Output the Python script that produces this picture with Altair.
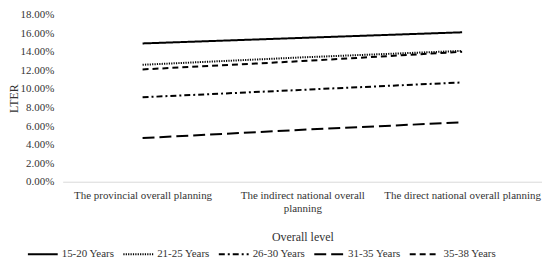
import altair as alt
import pandas as pd

categories = ["The provincial overall planning",
              "The indirect national overall planning",
              "The direct national overall planning"]
series = ["15-20 Years", "21-25 Years", "26-30 Years", "31-35 Years", "35-38 Years"]
v_15_20 = [0.149, 0.155, 0.161]
v_21_25 = [0.126, 0.134, 0.141]
v_26_30 = [0.091, 0.099, 0.107]
v_31_35 = [0.047, 0.056, 0.064]
v_35_38 = [0.121, 0.130, 0.140]
values = [v_15_20, v_21_25, v_26_30, v_31_35, v_35_38]
y_ticks = [0, 0.02, 0.04, 0.06, 0.08, 0.10, 0.12, 0.14, 0.16, 0.18]

rows = []
for s, vals in zip(series, values):
    for c, v in zip(categories, vals):
        rows.append({"level": c, "series": s, "LTER": v})
df = pd.DataFrame(rows)

font = "Liberation Serif"

chart = alt.Chart(df).mark_line(color="black", strokeWidth=2).encode(
    x=alt.X("level:N", sort=categories,
            scale=alt.Scale(type="point", padding=0.5),
            axis=alt.Axis(title="Overall level", labelAngle=0, ticks=False,
                          domainColor="#d9d9d9", labelColor="#333333",
                          labelFont=font, labelFontSize=11, labelPadding=8,
                          labelExpr="datum.label == 'The indirect national overall planning' ? ['The indirect national overall', 'planning'] : datum.label",
                          titleFont=font, titleFontSize=12, titleFontWeight="normal",
                          titleColor="#333333", titlePadding=18, labelLimit=300)),
    y=alt.Y("LTER:Q", scale=alt.Scale(domain=[0, 0.18]),
            axis=alt.Axis(title="LTER", format=".2%", values=y_ticks, grid=False,
                          domain=False, ticks=False, labelColor="#333333",
                          labelFont=font, labelFontSize=11, labelPadding=9,
                          titleFont=font, titleFontSize=12, titleFontWeight="normal",
                          titleColor="#333333", titlePadding=0)),
    strokeDash=alt.StrokeDash("series:N", sort=series,
                              scale=alt.Scale(domain=series,
                                              range=[[1, 0], [1.2, 1.2], [6, 3, 2, 3], [12, 5], [6, 4]]),
                              legend=alt.Legend(title=None, orient="none", direction="horizontal",
                                                legendX=-36, legendY=225, columns=5,
                                                symbolType="stroke", symbolSize=900,
                                                symbolStrokeColor="black", symbolStrokeWidth=2,
                                                labelFont=font, labelFontSize=11,
                                                labelColor="#333333", columnPadding=5,
                                                labelOffset=3)),
).properties(
    width=482, height=168,
    autosize=alt.AutoSizeParams(type="none"),
    padding={"left": 55, "top": 6, "right": 0, "bottom": 76},
).configure_view(stroke=None)

chart.save("out.html", embed_options={"renderer": "svg", "actions": False})
